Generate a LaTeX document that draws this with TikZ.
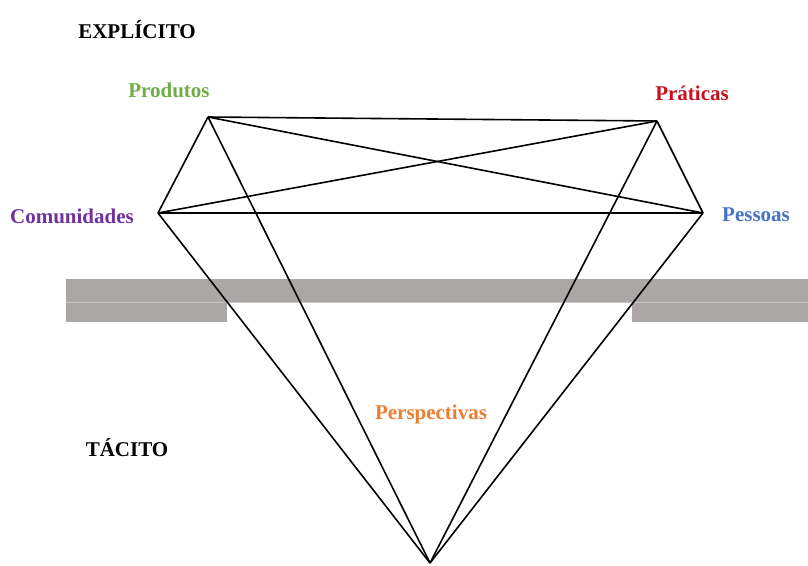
\documentclass[tikz,border=0pt]{standalone}
\usepackage{fontspec}
\setmainfont{Liberation Serif}
\definecolor{bargray}{RGB}{171,167,166}
\definecolor{gapgray}{RGB}{200,197,196}
\definecolor{cgreen}{RGB}{112,173,71}
\definecolor{cred}{RGB}{200,16,30}
\definecolor{cpurple}{RGB}{112,48,160}
\definecolor{cblue}{RGB}{68,114,196}
\definecolor{corange}{RGB}{237,125,49}
\begin{document}
\begin{tikzpicture}[x=1pt,y=-1pt,
  lbl/.style={font=\fontsize{21}{24}\selectfont\bfseries, inner sep=0pt},
  edge/.style={draw=black, line width=1.6pt, line join=round},
  bar/.style={fill=bargray, draw=none}]
\useasboundingbox (0,0) rectangle (808,565);
% gray bars
\fill[bargray] (66,279) rectangle (808,302);
\fill[gapgray] (66,302) rectangle (808,303);
\fill[bargray] (66,303) rectangle (227,322);
\fill[bargray] (632,303) rectangle (808,322);
% vertices
\coordinate (pr) at (208,117);
\coordinate (pt) at (657,121);
\coordinate (co) at (158,213);
\coordinate (pe) at (703,213);
\coordinate (ap) at (430,563);
% edges
\draw[edge] (pr) -- (pt);
\draw[edge] (pr) -- (pe);
\draw[edge] (pt) -- (co);
\draw[edge] (co) -- (pe);
\draw[edge] (pr) -- (co);
\draw[edge] (pt) -- (pe);
\draw[edge] (co) -- (ap);
\draw[edge] (pr) -- (ap);
\draw[edge] (pt) -- (ap);
\draw[edge] (pe) -- (ap);
% labels
\node[lbl] (ex) at (137,30) {EXPLÍCITO};
\node[lbl, text=cgreen] (lpr) at (169,90) {Produtos};
\node[lbl, text=cred] (lpt) at (692,93) {Práticas};
\node[lbl, text=cpurple] (lco) at (72,216) {Comunidades};
\node[lbl, text=cblue] (lpe) at (756,215) {Pessoas};
\node[lbl, text=corange] (lps) at (431,414) {Perspectivas};
\node[lbl] (ta) at (127,448) {TÁCITO};
\end{tikzpicture}
\end{document}
